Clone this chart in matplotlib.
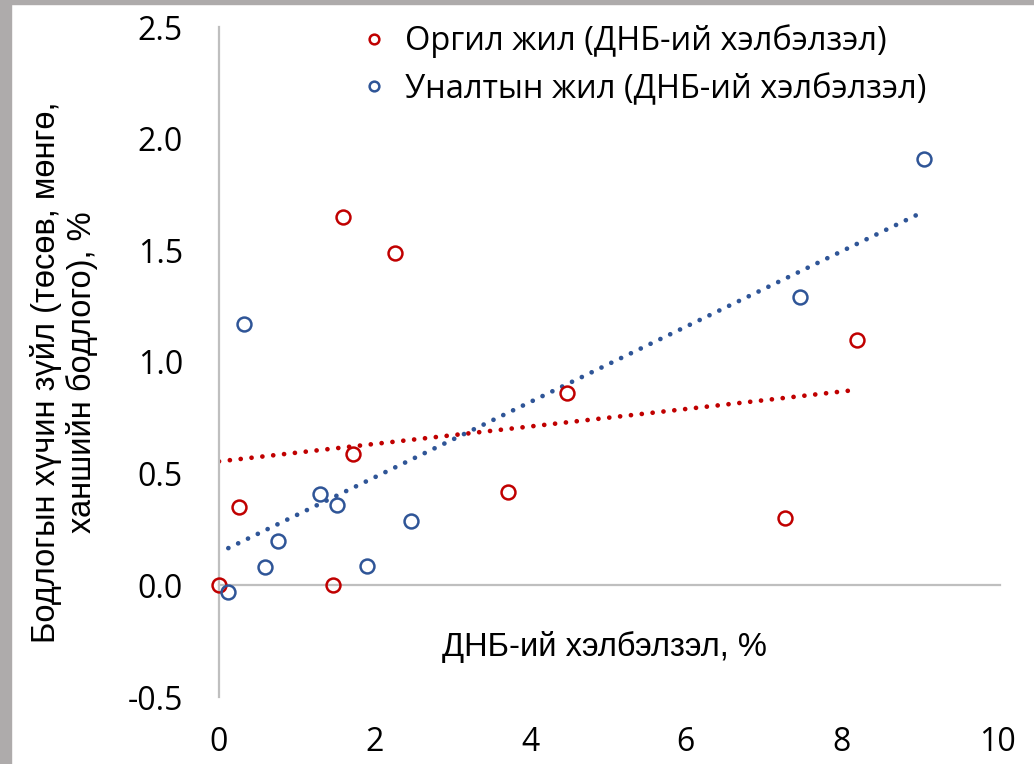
import matplotlib.pyplot as plt
import numpy as np
from matplotlib.patches import Rectangle

# Оргил жил
orgil_x = [0.0, 0.26, 1.47, 1.59, 1.72, 2.26, 3.71, 4.47, 7.28, 8.20]
orgil_y = [0.0, 0.35, 0.0, 1.65, 0.59, 1.49, 0.42, 0.86, 0.30, 1.10]
# Уналтын жил
unal_x = [0.12, 0.32, 0.59, 0.76, 1.30, 1.52, 1.90, 2.47, 7.47, 9.06]
unal_y = [-0.03, 1.17, 0.08, 0.20, 0.41, 0.36, 0.085, 0.29, 1.29, 1.91]

x_ticks = [0, 2, 4, 6, 8, 10]
y_ticks = [-0.5, 0.0, 0.5, 1.0, 1.5, 2.0, 2.5]

red = '#C00000'
blue = '#2F5597'
tick_font = 'Open Sans'
label_font = 'Liberation Sans'

W, H = 1034, 764
fig = plt.figure(figsize=(W / 100, H / 100), dpi=100)
ax = fig.add_axes([219 / W, 1 - 697 / H, (997 - 219) / W, (697 - 27) / H])

# рамка
fig.patches.append(Rectangle((0, 0), 11 / W, 1, transform=fig.transFigure,
                             color='#AEABAB', zorder=0))
fig.patches.append(Rectangle((0, 1 - 4 / H), 1, 4 / H, transform=fig.transFigure,
                             color='#AEABAB', zorder=0))

ax.set_xlim(0, 10)
ax.set_ylim(-0.5, 2.5)
for s in ['top', 'right', 'bottom']:
    ax.spines[s].set_visible(False)
ax.spines['left'].set_color('#BFBFBF')
ax.spines['left'].set_linewidth(1.6)
ax.axhline(0, color='#BFBFBF', lw=1.6, zorder=1, clip_on=False, xmax=1.004)

# трендийн шугам
for xs, ys, c in [(orgil_x, orgil_y, red), (unal_x, unal_y, blue)]:
    k, b = np.polyfit(xs, ys, 1)
    xx = np.array([min(xs), max(xs)])
    ax.plot(xx, k * xx + b, color=c, lw=3.4, linestyle=(0, (0.01, 2.3)),
            dash_capstyle='round', zorder=2)

ax.plot(orgil_x, orgil_y, 'o', mfc='none', mec=red, ms=10, mew=1.8,
        label='Оргил жил (ДНБ-ий хэлбэлзэл)', zorder=3, clip_on=False)
ax.plot(unal_x, unal_y, 'o', mfc='none', mec=blue, ms=10, mew=1.8,
        label='Уналтын жил (ДНБ-ий хэлбэлзэл)', zorder=3, clip_on=False)

ax.set_xticks(x_ticks)
ax.set_yticks(y_ticks)
ax.set_xticklabels([str(v) for v in x_ticks], fontfamily=tick_font, fontsize=23)
ax.set_yticklabels(['%.1f' % v for v in y_ticks], fontfamily=tick_font, fontsize=23)
ax.tick_params(axis='x', length=0, pad=21)
ax.tick_params(axis='y', length=0, pad=26)

leg = fig.legend(loc='upper left', bbox_to_anchor=(350 / W, 1 - 8 / H),
                 frameon=False, markerscale=0.7, handlelength=0.5,
                 handletextpad=0.7, labelspacing=0.45, borderpad=0,
                 prop={'family': tick_font, 'size': 23.5})

fig.text(604 / W, 1 - 647 / H, 'ДНБ-ий хэлбэлзэл, %', ha='center', va='center',
         fontfamily=label_font, fontsize=23.5)
fig.text(64 / W, 1 - 372 / H, 'Бодлогын хүчин зүйл (төсөв, мөнгө,\nханшийн бодлого), %',
         ha='center', va='center', rotation=90, multialignment='center',
         fontfamily=label_font, fontsize=23.5, linespacing=1.15)

fig.savefig('out.png', dpi=100)
